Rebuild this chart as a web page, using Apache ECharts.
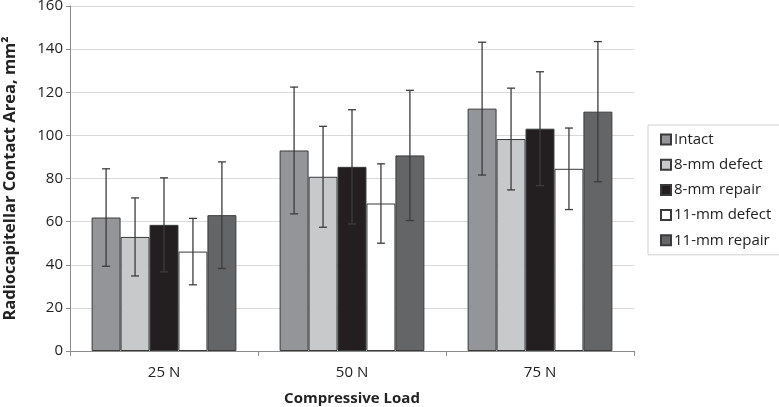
<!DOCTYPE html>
<html><head><meta charset="utf-8">
<script src="https://cdn.jsdelivr.net/npm/echarts@6/dist/echarts.min.js"></script>
<style>html,body{margin:0;padding:0;background:#fff}#c{width:779px;height:407px}</style>
</head><body><div id="c"></div>
<script>
var categories = ['25 N', '50 N', '75 N'];
var seriesNames = ['Intact', '8-mm defect', '8-mm repair', '11-mm defect', '11-mm repair'];
var intact = [61.9, 93.0, 112.4];
var defect8 = [52.9, 80.8, 98.3];
var repair8 = [58.5, 85.4, 103.1];
var defect11 = [46.1, 68.4, 84.5];
var repair11 = [63.0, 90.7, 111.0];
var intactSD = [22.6, 29.4, 30.8];
var defect8SD = [18.1, 23.4, 23.6];
var repair8SD = [21.8, 26.5, 26.4];
var defect11SD = [15.4, 18.4, 18.9];
var repair11SD = [24.7, 30.2, 32.5];
var yTicks = [0, 20, 40, 60, 80, 100, 120, 140, 160];

var means = [intact, defect8, repair8, defect11, repair11];
var sds = [intactSD, defect8SD, repair8SD, defect11SD, repair11SD];
var colors = ['#939598', '#c8c9cb', '#231f20', '#ffffff', '#646567'];
var catGap = 0.23;
var font = "'Open Sans', sans-serif";

var series = [];
means.forEach(function (m, i) {
  series.push({
    name: seriesNames[i], type: 'bar', data: m,
    barGap: '0%', barCategoryGap: (catGap * 100) + '%',
    itemStyle: { color: colors[i], borderColor: '#3a3a3a', borderWidth: 1 },
    z: 2
  });
});
means.forEach(function (m, i) {
  var d = m.map(function (v, k) { return [k, v - sds[i][k], v + sds[i][k]]; });
  series.push({
    type: 'custom', name: seriesNames[i] + ' err', data: d, z: 5,
    encode: { x: 0, y: [1, 2] },
    renderItem: function (params, api) {
      var k = api.value(0);
      var lo = api.coord([k, api.value(1)]);
      var hi = api.coord([k, api.value(2)]);
      var band = api.size([1, 0])[0];
      var bw = band * (1 - catGap) / 5;
      var x = lo[0] + (i - 2) * bw;
      var w = 4;
      var st = { stroke: '#3c3c3c', lineWidth: 1.3 };
      return { type: 'group', children: [
        { type: 'line', shape: { x1: x, y1: lo[1], x2: x, y2: hi[1] }, style: st },
        { type: 'line', shape: { x1: x - w, y1: hi[1], x2: x + w, y2: hi[1] }, style: st },
        { type: 'line', shape: { x1: x - w, y1: lo[1], x2: x + w, y2: lo[1] }, style: st }
      ]};
    }
  });
});

var chart = echarts.init(document.getElementById('c'));
chart.setOption({
  animation: false,
  backgroundColor: '#fff',
  grid: { left: 70, right: 145, top: 6, bottom: 56, outerBoundsMode: 'none', containLabel: false },
  legend: {
    data: seriesNames, orient: 'vertical', left: 648, top: 125,
    width: 120, itemWidth: 10, itemHeight: 10, itemGap: 10.2, icon: 'rect',
    padding: [7, 12, 7, 12],
    borderColor: '#d0d0d0', borderWidth: 1,
    textStyle: { fontFamily: font, fontSize: 15, color: '#222', padding: [0, 0, 0, -2] }
  },
  xAxis: {
    type: 'category', data: categories,
    name: 'Compressive Load', nameLocation: 'middle', nameGap: 40,
    nameTextStyle: { fontFamily: font, fontSize: 15, fontWeight: 'bold', color: '#222' },
    axisLine: { lineStyle: { color: '#8c8c8c' } },
    axisTick: { show: true, length: 5, lineStyle: { color: '#8c8c8c' } },
    axisLabel: { fontFamily: font, fontSize: 15, color: '#222', margin: 14 }
  },
  yAxis: {
    type: 'value', min: yTicks[0], max: yTicks[yTicks.length - 1], interval: 20,
    name: 'Radiocapitellar Contact Area, mm²', nameLocation: 'middle', nameGap: 51,
    nameTextStyle: { fontFamily: font, fontSize: 16.5, fontWeight: 'bold', color: '#222' },
    axisLine: { show: true, lineStyle: { color: '#8c8c8c' } },
    axisTick: { show: true, length: 4, lineStyle: { color: '#8c8c8c' } },
    axisLabel: { fontFamily: font, fontSize: 15, color: '#222', margin: 7 },
    splitLine: { lineStyle: { color: '#d9d9d9' } }
  },
  series: series
});
</script></body></html>
